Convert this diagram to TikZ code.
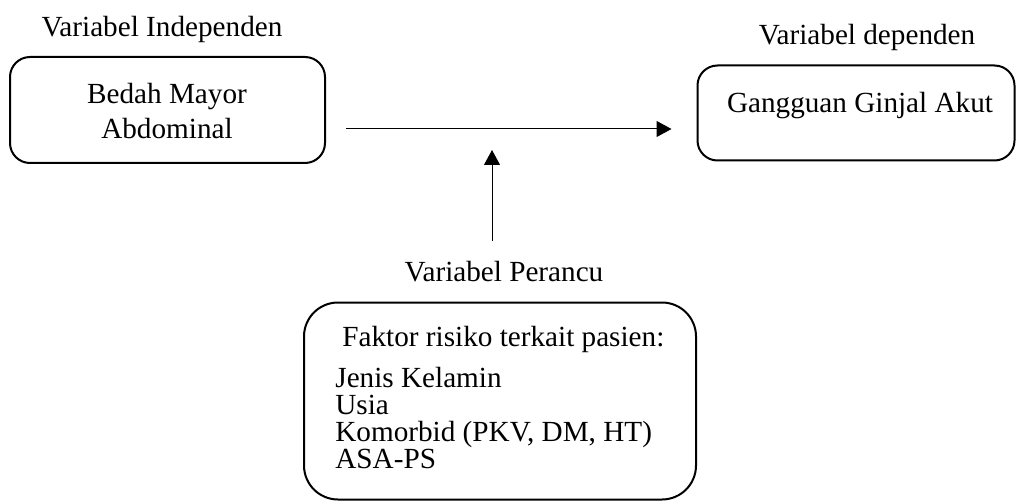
\documentclass[tikz,border=0pt]{standalone}
\usepackage{fontspec}
\setmainfont{Liberation Serif}
\usetikzlibrary{arrows.meta,calc}
\begin{document}
\begin{tikzpicture}[x=0.5pt,y=-0.5pt,
  box/.style={draw,line width=1pt,rounded corners=10pt,inner sep=0pt},
  lbl/.style={inner sep=0pt,font=\fontsize{14.6}{17.5}\selectfont},
  arr/.style={line width=0.5pt,-{Triangle[length=7.5pt,width=8pt]}}]
\useasboundingbox (0,0) rectangle (1016,502);
% labels
\node[lbl] (li) at (162,29) {Variabel Independen};
\node[lbl] (ld) at (867,37) {Variabel dependen};
\node[lbl] (lp) at (504,272) {Variabel Perancu};
% boxes
\node[box,minimum width=315*0.5pt,minimum height=106*0.5pt] (L) at (167.5,110) {};
\node[lbl,align=center,font=\fontsize{14.6}{17.5}\selectfont] (Lt) at (167,111) {Bedah Mayor\\Abdominal};
\node[box,minimum width=317*0.5pt,minimum height=95*0.5pt] (R) at (856,113) {};
\node[lbl] (Rt) at (860,106) {Gangguan Ginjal Akut};
\node[box,rounded corners=17pt,minimum width=392*0.5pt,minimum height=197*0.5pt] (B) at (500,401) {};
\node[lbl,align=left,anchor=north west,font=\fontsize{14.6}{13.5}\selectfont] (Bt) at (335,326)
  {\hspace{3.5pt}Faktor risiko terkait pasien:\\[7pt]Jenis Kelamin\\Usia\\Komorbid (PKV, DM, HT)\\ASA-PS};
% connectors
\coordinate (ay) at (0,129);
\coordinate (m) at (492,129);
\draw[arr] ([xshift=10pt]L.east |- ay) -- ([xshift=-12.5pt]R.west |- ay);
\draw[arr] ($(m |- lp.north)+(0,-20)$) -- ($(m)+(0,21)$);
\end{tikzpicture}
\end{document}
